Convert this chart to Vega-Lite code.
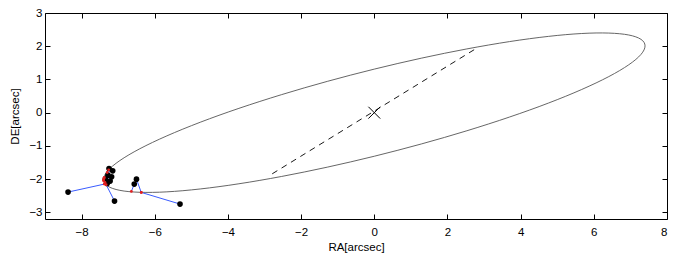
{
  "$schema": "https://vega.github.io/schema/vega-lite/v6.json",
  "width": 622,
  "height": 206,
  "autosize": {"type": "none"},
  "padding": {"left": 45, "top": 13, "right": 8, "bottom": 41},
  "background": "white",
  "config": {
    "view": {"stroke": "black", "strokeWidth": 1},
    "font": "Liberation Sans",
    "axis": {
      "domain": false,
      "grid": false,
      "tickSize": -5,
      "tickColor": "black",
      "tickWidth": 1,
      "labelFont": "Liberation Sans",
      "labelFontSize": 11.5,
      "labelColor": "black",
      "titleFont": "Liberation Sans",
      "titleFontSize": 11.5,
      "titleFontWeight": "normal",
      "titleColor": "black"
    }
  },
  "datasets": {
    "ell": [
      {"t": 0, "x": 7.4, "y": 2.011}, {"t": 10, "x": 7.288, "y": 2.208}, {"t": 20, "x": 6.954, "y": 2.338},
      {"t": 30, "x": 6.409, "y": 2.396}, {"t": 40, "x": 5.669, "y": 2.383}, {"t": 50, "x": 4.757, "y": 2.296},
      {"t": 60, "x": 3.7, "y": 2.14}, {"t": 70, "x": 2.531, "y": 1.919}, {"t": 80, "x": 1.285, "y": 1.64},
      {"t": 90, "x": 0, "y": 1.311}, {"t": 100, "x": -1.285, "y": 0.942}, {"t": 110, "x": -2.531, "y": 0.544},
      {"t": 120, "x": -3.7, "y": 0.13}, {"t": 130, "x": -4.757, "y": -0.288}, {"t": 140, "x": -5.669, "y": -0.698},
      {"t": 150, "x": -6.409, "y": -1.086}, {"t": 160, "x": -6.954, "y": -1.441}, {"t": 170, "x": -7.288, "y": -1.752},
      {"t": 180, "x": -7.4, "y": -2.011}, {"t": 190, "x": -7.288, "y": -2.208}, {"t": 200, "x": -6.954, "y": -2.338},
      {"t": 210, "x": -6.409, "y": -2.396}, {"t": 220, "x": -5.669, "y": -2.383}, {"t": 230, "x": -4.757, "y": -2.296},
      {"t": 240, "x": -3.7, "y": -2.14}, {"t": 250, "x": -2.531, "y": -1.919}, {"t": 260, "x": -1.285, "y": -1.64},
      {"t": 270, "x": 0, "y": -1.311}, {"t": 280, "x": 1.285, "y": -0.942}, {"t": 290, "x": 2.531, "y": -0.544},
      {"t": 300, "x": 3.7, "y": -0.13}, {"t": 310, "x": 4.757, "y": 0.288}, {"t": 320, "x": 5.669, "y": 0.698},
      {"t": 330, "x": 6.409, "y": 1.086}, {"t": 340, "x": 6.954, "y": 1.441}, {"t": 350, "x": 7.288, "y": 1.752}
    ],
    "nodes": [{"x": -2.79, "y": -1.84}, {"x": 2.84, "y": 1.97}],
    "origin": [{"x": 0, "y": 0}],
    "obs": [
      {"x": -8.37, "y": -2.39, "px": -7.38, "py": -2.15},
      {"x": -7.1, "y": -2.66, "px": -7.36, "py": -2.1},
      {"x": -7.25, "y": -1.68, "px": -7.26, "py": -1.72},
      {"x": -7.15, "y": -1.75, "px": -7.3, "py": -1.8},
      {"x": -7.28, "y": -1.88, "px": -7.38, "py": -1.95},
      {"x": -7.18, "y": -1.93, "px": -7.4, "py": -2.02},
      {"x": -7.35, "y": -2.0, "px": -7.39, "py": -1.98},
      {"x": -7.22, "y": -2.06, "px": -7.33, "py": -2.17},
      {"x": -7.3, "y": -2.13, "px": -7.4, "py": -2.05},
      {"x": -6.5, "y": -2.0, "px": -6.37, "py": -2.4},
      {"x": -6.56, "y": -2.15, "px": -6.64, "py": -2.37},
      {"x": -5.31, "y": -2.75, "px": -6.37, "py": -2.4}
    ]
  },
  "layer": [
    {
      "data": {"name": "ell"},
      "mark": {"type": "line", "interpolate": "cardinal-closed", "color": "#555555", "strokeWidth": 0.9},
      "encoding": {
        "x": {"field": "x", "type": "quantitative", "scale": {"domain": [-9, 8], "nice": false, "zero": false},
              "axis": {"title": "RA[arcsec]", "values": [-8, -6, -4, -2, 0, 2, 4, 6, 8], "labelPadding": 12, "titlePadding": 4}},
        "y": {"field": "y", "type": "quantitative", "scale": {"domain": [-3.2, 3], "nice": false, "zero": false},
              "axis": {"title": "DE[arcsec]", "values": [-3, -2, -1, 0, 1, 2, 3], "labelPadding": 8, "titlePadding": 8}},
        "order": {"field": "t", "type": "quantitative"}
      }
    },
    {
      "data": {"name": "nodes"},
      "mark": {"type": "line", "color": "black", "strokeWidth": 0.9, "strokeDash": [6, 5]},
      "encoding": {
        "x": {"field": "x", "type": "quantitative", "axis": null},
        "y": {"field": "y", "type": "quantitative", "axis": null}
      }
    },
    {
      "data": {"name": "obs"},
      "mark": {"type": "rule", "color": "#3a5cff", "strokeWidth": 1},
      "encoding": {
        "x": {"field": "x", "type": "quantitative", "axis": null},
        "y": {"field": "y", "type": "quantitative", "axis": null},
        "x2": {"field": "px"},
        "y2": {"field": "py"}
      }
    },
    {
      "data": {"name": "obs"},
      "mark": {"type": "point", "filled": true, "color": "black", "size": 32, "opacity": 1},
      "encoding": {
        "x": {"field": "x", "type": "quantitative", "axis": null},
        "y": {"field": "y", "type": "quantitative", "axis": null}
      }
    },
    {
      "data": {"name": "obs"},
      "mark": {"type": "point", "filled": true, "color": "#e02020", "size": 8, "opacity": 1},
      "encoding": {
        "x": {"field": "px", "type": "quantitative", "axis": null},
        "y": {"field": "py", "type": "quantitative", "axis": null}
      }
    },
    {
      "data": {"name": "origin"},
      "mark": {"type": "point", "shape": "M-1,-1L1,1M-1,1L1,-1", "filled": false, "color": "black", "strokeWidth": 1, "size": 140, "opacity": 1},
      "encoding": {
        "x": {"field": "x", "type": "quantitative",
              "axis": {"orient": "top", "labels": false, "title": null, "values": [-8, -6, -4, -2, 0, 2, 4, 6, 8]}},
        "y": {"field": "y", "type": "quantitative",
              "axis": {"orient": "right", "labels": false, "title": null, "values": [-3, -2, -1, 0, 1, 2, 3]}}
      }
    }
  ],
  "resolve": {"axis": {"x": "independent", "y": "independent"}}
}
